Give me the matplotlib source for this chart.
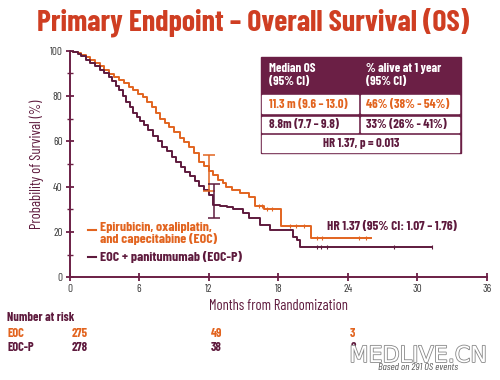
import numpy as np
import matplotlib.pyplot as plt
import matplotlib.patheffects as pe
from matplotlib.patches import Rectangle
import matplotlib.transforms as mtransforms

FAMILY = ['Barlow Condensed', 'DejaVu Sans']
plt.rcParams['font.family'] = FAMILY

ORANGE = '#e2641f'
DARK = '#5e1a3d'
TITLE_RED = '#cf3e22'
MAROON = '#6b1f45'

# Kaplan-Meier estimates (months, % surviving)
eoc_t = [0, 0.3, 0.7, 1.0, 1.4, 1.8, 2.2, 2.6, 3.0, 3.4, 3.8, 4.3, 4.7, 5.1, 5.5, 5.9, 6.3, 6.7,
         7.1, 7.5, 7.8, 8.2, 8.6, 9.0, 9.5, 9.9, 10.3, 10.7, 11.2, 11.6, 12.0, 12.4, 12.8, 13.2,
         13.5, 14.0, 14.7, 15.5, 16.0, 16.8, 18.2, 20.8, 26.0]
eoc_s = [100, 99.5, 98.8, 98, 97, 96, 94.5, 93, 91.5, 89.8, 88.5, 87, 85.5, 84, 82.5, 81, 79.5, 77.5,
         75, 72.5, 70, 68, 66.3, 64.3, 61.5, 59.5, 57.5, 55, 51, 49, 47, 45, 43, 41.5,
         40, 38.5, 37, 35.6, 31.5, 30, 22.5, 17.5, 17.5]
eocp_t = [0, 0.3, 0.7, 1.0, 1.4, 1.8, 2.2, 2.6, 3.0, 3.4, 3.7, 4.0, 4.3, 4.6, 4.9, 5.2, 5.5, 5.8,
          6.1, 6.4, 6.8, 7.2, 7.6, 8.0, 8.4, 8.8, 9.2, 9.6, 10.0, 10.4, 10.8, 11.2, 11.6, 12.0,
          12.4, 13.0, 13.6, 14.1, 15.0, 15.5, 16.4, 17.3, 19.3, 19.6, 19.9, 31.3]
eocp_s = [100, 99.5, 98.5, 97.5, 96, 94.5, 93, 91.5, 90, 88.5, 86.5, 84.5, 82.5, 80, 77.5, 75, 72.5, 70.5,
          69, 67, 65, 62.5, 60, 57.5, 55.5, 53, 51, 48.8, 46.5, 44.5, 42.5, 40.5, 38.5, 36.5,
          32, 31.5, 31, 30, 28.5, 26, 23.1, 20.9, 17.9, 16.5, 13.5, 13.5]

# censored observations (months)
eoc_cens = [16.3, 16.6, 17.0, 17.5, 19.0, 19.5, 20.2, 21.3, 21.8, 25.0, 25.6]
eocp_cens = [21.3, 21.7, 22.2, 28.0, 31.3]

# 1-year survival with 95% CI
ci_x = [12.0, 12.5]
ci_low = [38, 26]
ci_high = [54, 41]

risk_months = [0, 12, 24]
risk_eoc = [275, 49, 3]
risk_eocp = [278, 38, 2]

table_header = ['Median OS\n(95% CI)', '% alive at 1 year\n(95% CI)']
table_eoc = ['11.3 m (9.6 \u2013 13.0)', '46% (38% - 54%)']
table_eocp = ['8.8m (7.7 \u2013 9.8)', '33% (26% - 41%)']
table_hr = 'HR 1.37, p = 0.013'


def step_value(t, s, x):
    i = np.searchsorted(t, x, side='right') - 1
    return np.asarray(s)[i]


fig = plt.figure(figsize=(5, 3.8), dpi=100)
ax = fig.add_axes([0.139, 0.270, 0.835, 0.597])

ax.plot(eoc_t, eoc_s, drawstyle='steps-post', color=ORANGE, lw=1.4, zorder=3)
ax.plot(eocp_t, eocp_s, drawstyle='steps-post', color=DARK, lw=1.4, zorder=3)
ax.plot(eoc_cens, step_value(eoc_t, eoc_s, eoc_cens), '|', color=ORANGE, ms=3, mew=0.8)
ax.plot(eocp_cens, step_value(eocp_t, eocp_s, eocp_cens), '|', color=DARK, ms=3, mew=0.8)

for x, lo, hi, c in zip(ci_x, ci_low, ci_high, [ORANGE, DARK]):
    ax.errorbar([x], [(lo + hi) / 2], yerr=[[(hi - lo) / 2], [(hi - lo) / 2]], fmt='none',
                ecolor=c, elinewidth=1.1, capsize=4, capthick=1.1, zorder=4)

ax.set_xlim(0, 36)
ax.set_ylim(0, 100)
ax.set_xticks(range(0, 37, 6))
ax.set_yticks(range(0, 101, 20))
ax.set_yticks(range(10, 100, 20), minor=True)
for s in ['top', 'right']:
    ax.spines[s].set_visible(False)
for s in ['left', 'bottom']:
    ax.spines[s].set_color(MAROON)
    ax.spines[s].set_linewidth(1.4)
ax.tick_params(which='major', direction='inout', length=6, width=1.3, color=MAROON,
               labelsize=8, labelcolor='#3a3a3a', pad=2)
ax.tick_params(which='minor', direction='inout', length=4, width=1, color=MAROON)
ax.set_ylabel('Probability of Survival (%)', fontsize=10.5, color=DARK, labelpad=4)
ax.set_xlabel('Months from Randomization', fontsize=10.5, color=DARK, labelpad=3)

# legend drawn as line + text
ax.plot([1.6, 2.3], [20.9, 20.9], color=ORANGE, lw=1.5)
ax.text(2.6, 24.5, 'Epirubicin, oxaliplatin,\nand capecitabine (EOC)', color=ORANGE,
        fontsize=10, fontweight='bold', va='top', ha='left', linespacing=1.05)
ax.plot([1.6, 2.3], [9.0, 9.0], color=DARK, lw=1.5)
ax.text(2.6, 9.0, 'EOC + panitumumab (EOC-P)', color=DARK, fontsize=10,
        fontweight='bold', va='center', ha='left')

ax.text(22.2, 22.3, 'HR 1.37 (95% CI: 1.07 \u2013 1.76)', color=DARK, fontsize=9.5,
        fontweight='bold', va='center', ha='left')

fig.text(0.506, 0.942, 'Primary Endpoint \u2013 Overall Survival (OS)', ha='center',
         va='center', fontsize=21.5, fontweight='bold', color=TITLE_RED)

# overlay in pixel coordinates for table and risk numbers
ov = fig.add_axes([0, 0, 1, 1], zorder=5)
ov.set_xlim(0, 500)
ov.set_ylim(380, 0)
ov.axis('off')

tl, tr, tt, tb = 260.7, 460.7, 56.7, 153.3
col = 359.3
rows = [93.3, 115, 133.3]
ov.add_patch(Rectangle((tl, tt), tr - tl, tb - tt, color=MAROON))
pad = 1.6
cells = [(tl, rows[0], col, rows[1]), (col, rows[0], tr, rows[1]),
         (tl, rows[1], col, rows[2]), (col, rows[1], tr, rows[2]),
         (tl, rows[2], tr, tb)]
for x0, y0, x1, y1 in cells:
    ov.add_patch(Rectangle((x0 + pad, y0 + pad), x1 - x0 - 2 * pad, y1 - y0 - 2 * pad,
                           color='white'))
fs = 9.2
ov.text(tl + 8, (tt + rows[0]) / 2, table_header[0], color='white', fontsize=fs,
        fontweight='bold', va='center', ha='left', linespacing=1.2)
ov.text(col + 7, (tt + rows[0]) / 2, table_header[1], color='white', fontsize=fs,
        fontweight='bold', va='center', ha='left', linespacing=1.2)
ov.text(tl + 8, (rows[0] + rows[1]) / 2, table_eoc[0], color=ORANGE, fontsize=fs,
        fontweight='bold', va='center')
ov.text(col + 7, (rows[0] + rows[1]) / 2, table_eoc[1], color=ORANGE, fontsize=fs,
        fontweight='bold', va='center')
ov.text(tl + 8, (rows[1] + rows[2]) / 2, table_eocp[0], color=DARK, fontsize=fs,
        fontweight='bold', va='center')
ov.text(col + 7, (rows[1] + rows[2]) / 2, table_eocp[1], color=DARK, fontsize=fs,
        fontweight='bold', va='center')
ov.text((tl + tr) / 2, (rows[2] + tb) / 2, table_hr, color=DARK, fontsize=fs,
        fontweight='bold', va='center', ha='center')

# number at risk, aligned with the month axis
trans = mtransforms.blended_transform_factory(ax.transData, ov.transData)
ov.text(7, 317.5, 'Number at risk', color=DARK, fontsize=9, fontweight='bold', va='center')
ov.text(7, 333.3, 'EOC', color=ORANGE, fontsize=9, fontweight='bold', va='center')
ov.text(7, 347.7, 'EOC-P', color=DARK, fontsize=9, fontweight='bold', va='center')
for m, a, b in zip(risk_months, risk_eoc, risk_eocp):
    ov.text(m + 0.2, 333.3, str(a), color=ORANGE, fontsize=9, fontweight='bold', va='center',
            ha='left', transform=trans)
    ov.text(m + 0.2, 347.7, str(b), color=DARK, fontsize=9, fontweight='bold', va='center',
            ha='left', transform=trans)

# watermark
ov.text(378, 367, 'Based on 291 OS events', color='#555555', fontsize=7.5, style='italic',
        va='center', ha='left')
ov.text(418, 356, 'MEDLIVE.CN', color='white', fontsize=16, va='center', ha='center',
        family=['DejaVu Sans'],
        path_effects=[pe.withStroke(linewidth=1.2, foreground='#888888')])

fig.savefig('out.png', dpi=100, facecolor='white')
